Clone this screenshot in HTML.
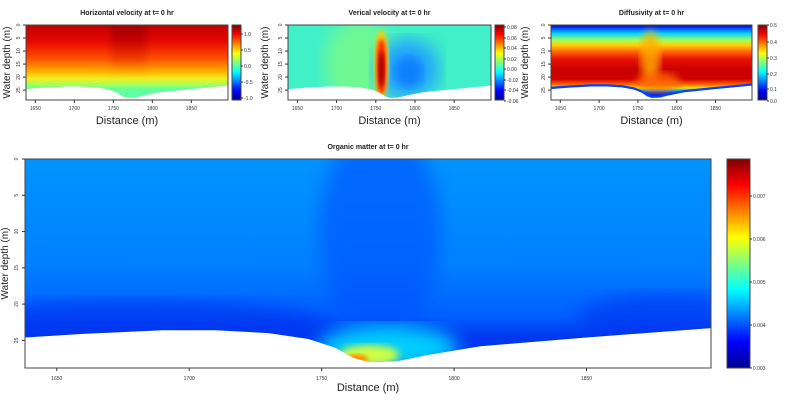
<!DOCTYPE html>
<html><head><meta charset="utf-8"><style>
html,body{margin:0;padding:0;background:#fff;width:800px;height:400px;overflow:hidden}
svg{display:block;font-family:"Liberation Sans",sans-serif}
</style></head><body>
<svg id="s" width="800" height="400" xmlns="http://www.w3.org/2000/svg">
<defs>
<linearGradient id="jet" x1="0" y1="1" x2="0" y2="0">
<stop offset="0" stop-color="#00008f"/><stop offset="0.125" stop-color="#0000ff"/>
<stop offset="0.375" stop-color="#00ffff"/><stop offset="0.625" stop-color="#ffff00"/>
<stop offset="0.875" stop-color="#ff0000"/><stop offset="1" stop-color="#800000"/>
</linearGradient>
<linearGradient id="hv" x1="0" y1="0" x2="0" y2="1">
<stop offset="0" stop-color="#c00000"/><stop offset="0.22" stop-color="#e80800"/>
<stop offset="0.45" stop-color="#ff5000"/><stop offset="0.62" stop-color="#ffb000"/>
<stop offset="0.72" stop-color="#f0f020"/><stop offset="0.8" stop-color="#a0ff60"/><stop offset="0.86" stop-color="#60ffa0"/><stop offset="1" stop-color="#60ffa0"/>
</linearGradient>
<linearGradient id="hvc" x1="0" y1="0" x2="0" y2="1">
<stop offset="0" stop-color="#900000" stop-opacity="0.8"/><stop offset="0.5" stop-color="#b00000" stop-opacity="0.3"/><stop offset="1" stop-color="#b00000" stop-opacity="0"/>
</linearGradient>
<linearGradient id="df" x1="0" y1="0" x2="0" y2="1">
<stop offset="0" stop-color="#0000a0"/><stop offset="0.04" stop-color="#0040ff"/>
<stop offset="0.11" stop-color="#00d0ff"/><stop offset="0.2" stop-color="#a0ff60"/>
<stop offset="0.27" stop-color="#ffd000"/><stop offset="0.36" stop-color="#ff6000"/>
<stop offset="0.46" stop-color="#e81000"/><stop offset="0.6" stop-color="#c80000"/><stop offset="0.72" stop-color="#d00000"/>
<stop offset="0.79" stop-color="#ff6000"/><stop offset="0.84" stop-color="#ffe000"/><stop offset="0.87" stop-color="#00c0ff"/><stop offset="0.9" stop-color="#0030ff"/><stop offset="1" stop-color="#0000c0"/>
</linearGradient>
<linearGradient id="om" x1="0" y1="0" x2="0" y2="1">
<stop offset="0" stop-color="#0094ff"/><stop offset="0.5" stop-color="#0080ff"/>
<stop offset="0.75" stop-color="#0060ff"/><stop offset="0.85" stop-color="#0038f0"/>
</linearGradient>
<filter id="b4"><feGaussianBlur stdDeviation="4"/></filter>
<filter id="b2"><feGaussianBlur stdDeviation="2"/></filter>
<filter id="b8"><feGaussianBlur stdDeviation="9"/></filter>
</defs>
</svg>
<script>
var s=document.getElementById('s');var h='';
var prof=[[1638,24.6],[1660,24.1],[1690,23.6],[1710,23.6],[1730,24.0],[1745,24.8],[1755,26],[1762,27.4],[1768,28],[1778,27.9],[1790,27],[1810,25.8],[1850,24.6],[1897,23.3]];
function seabed(X,Y,right,bottom){var p='M'+X(1638)+','+Y(prof[0][1]);prof.forEach(function(q){p+=' L'+X(q[0])+','+Y(q[1]);});p+=' L'+right+','+Y(23.3)+' L'+right+','+(bottom+3)+' L'+X(1638)+','+(bottom+3)+'Z';return '<path d="'+p+'" fill="#fff"/>';}
function panel(o){
 var L=o.L,R=o.R,T=o.T,B=o.B;
 var X=function(m){return L+(m-1638)*(R-L)/259;};var Y=function(d){return T+d*(B-T)/28.8;};
 var bg=function(g){return '<rect x="'+L+'" y="'+T+'" width="'+(R-L)+'" height="'+(B-T)+'" fill="'+g+'"/>';};
 h+='<svg x="'+L+'" y="'+T+'" width="'+(R-L)+'" height="'+(B-T)+'" viewBox="'+L+' '+T+' '+(R-L)+' '+(B-T)+'">'+o.fill(X,Y,bg)+seabed(X,Y,R,B)+'</svg>';
 h+='<rect x="'+L+'" y="'+T+'" width="'+(R-L)+'" height="'+(B-T)+'" fill="none" stroke="#444" stroke-width="1"/>';
 [1650,1700,1750,1800,1850].forEach(function(m){var x=X(m);h+='<line x1="'+x+'" y1="'+B+'" x2="'+x+'" y2="'+(B+3)+'" stroke="#333"/><text x="'+x+'" y="'+(B+o.tl)+'" font-size="'+o.fs+'" text-anchor="middle" fill="#333">'+m+'</text>';});
 [0,5,10,15,20,25].forEach(function(d){var y=Y(d);h+='<line x1="'+L+'" y1="'+y+'" x2="'+(L-3)+'" y2="'+y+'" stroke="#333"/><text transform="translate('+(L-o.yl)+','+y+') rotate(-90)" font-size="'+o.fs+'" text-anchor="middle" fill="#333">'+d+'</text>';});
 h+='<text x="'+(L+R)/2+'" y="'+o.titY+'" font-size="7" font-weight="bold" text-anchor="middle" fill="#222">'+o.title+'</text>';
 h+='<text x="'+(L+R)/2+'" y="'+o.xlY+'" font-size="11" text-anchor="middle" fill="#222">Distance (m)</text>';
 if(o.ylX) h+='<text transform="translate('+o.ylX+','+(T+B)/2+') rotate(-90)" font-size="10" text-anchor="middle" fill="#222">Water depth (m)</text>';
 var cb=o.cb;h+='<rect x="'+cb[0]+'" y="'+T+'" width="'+(cb[1]-cb[0])+'" height="'+(cb[2]-T)+'" fill="url(#jet)" stroke="#444"/>';
 o.ticks.forEach(function(t){h+='<line x1="'+cb[1]+'" y1="'+t[0]+'" x2="'+(cb[1]+2)+'" y2="'+t[0]+'" stroke="#333"/><text x="'+(cb[1]+3)+'" y="'+(t[0]+2)+'" font-size="5" fill="#333">'+t[1]+'</text>';});
 if(o.rl) h+='<text transform="translate('+o.rl+','+(T+B)/2+') rotate(-90)" font-size="10" text-anchor="middle" fill="#222">Water depth (m)</text>';
}
panel({L:26,R:228,T:25,B:100,tl:10,fs:5,yl:6,title:'Horizontal velocity at t= 0 hr',titY:15,xlY:124,ylX:10,cb:[232,241,100],rl:268,
 ticks:[[34,'1.0'],[50,'0.5'],[66,'0.0'],[82,'-0.5'],[98,'-1.0']],
 fill:function(X,Y,bg){return bg('url(#hv)')+'<rect x="'+(X(1770)-18)+'" y="25" width="36" height="50" fill="url(#hvc)" filter="url(#b4)"/>';}});
panel({L:288,R:491,T:25,B:100,tl:10,fs:5,yl:6,title:'Verical velocity at t= 0 hr',titY:15,xlY:124,ylX:0,cb:[495,504,100],rl:528,
 ticks:[[27,'0.08'],[38,'0.06'],[48,'0.04'],[59,'0.02'],[69,'0.00'],[80,'-0.02'],[90,'-0.04'],[101,'-0.06']],
 fill:function(X,Y,bg){var x=X(1761);return bg('#40f0c8')+
 '<ellipse cx="'+(x-25)+'" cy="'+Y(15)+'" rx="35" ry="45" fill="#90ff70" opacity="0.6" filter="url(#b8)"/>'+
 '<ellipse cx="'+(X(1790))+'" cy="'+Y(17)+'" rx="32" ry="30" fill="#20a0ff" filter="url(#b8)"/>'+
 '<ellipse cx="'+(X(1792))+'" cy="'+Y(18)+'" rx="14" ry="15" fill="#1080ff" filter="url(#b4)"/>'+
 '<ellipse cx="'+(x-3)+'" cy="'+Y(15)+'" rx="7" ry="34" fill="#ffd000" filter="url(#b2)"/>'+
 '<ellipse cx="'+(x-3)+'" cy="'+Y(16)+'" rx="5" ry="28" fill="#ff2000" filter="url(#b2)"/>'+
 '<ellipse cx="'+(x-3)+'" cy="'+Y(17)+'" rx="3" ry="18" fill="#a00000" filter="url(#b2)"/>';}});
panel({L:551,R:752,T:25,B:100,tl:10,fs:5,yl:6,title:'Diffusivity at t= 0 hr',titY:15,xlY:124,ylX:0,cb:[758,767,100],
 ticks:[[25,'0.5'],[42,'0.4'],[58,'0.3'],[74,'0.2'],[89,'0.1'],[101,'0.0']],
 fill:function(X,Y,bg){return bg('url(#df)')+
 '<ellipse cx="'+X(1766)+'" cy="'+Y(12)+'" rx="10" ry="26" fill="#ffb000" opacity="0.8" filter="url(#b4)"/>'+
 '<ellipse cx="'+X(1776)+'" cy="'+Y(22)+'" rx="22" ry="10" fill="#ff7000" opacity="0.8" filter="url(#b4)"/>'+
 '<path d="M'+X(1638)+','+Y(24.6)+prof.map(function(q){return ' L'+X(q[0])+','+Y(q[1]);}).join('')+'" fill="none" stroke="#0040ff" stroke-width="2.5" transform="translate(0,-1)"/>';}});
panel({L:25,R:711,T:159,B:368,tl:12,fs:5,yl:7,title:'Organic matter at t= 0 hr',titY:149,xlY:391,ylX:8,cb:[727,750,368],
 ticks:[[196,'0.007'],[239,'0.006'],[282,'0.005'],[325,'0.004'],[368,'0.003']],
 fill:function(X,Y,bg){return bg('url(#om)')+
 '<ellipse cx="'+X(1772)+'" cy="'+Y(10)+'" rx="60" ry="110" fill="#0050ff" opacity="0.6" filter="url(#b8)"/>'+
 '<ellipse cx="'+X(1680)+'" cy="'+Y(23)+'" rx="200" ry="25" fill="#0030f0" opacity="0.7" filter="url(#b8)"/>'+
 '<ellipse cx="'+X(1880)+'" cy="'+Y(22)+'" rx="90" ry="25" fill="#0030f0" opacity="0.6" filter="url(#b8)"/>'+
 '<ellipse cx="'+X(1775)+'" cy="'+Y(26)+'" rx="70" ry="22" fill="#00e0ff" opacity="0.9" filter="url(#b8)"/>'+
 '<ellipse cx="'+X(1768)+'" cy="'+Y(27)+'" rx="30" ry="10" fill="#d0ff40" filter="url(#b4)"/>'+
 '<ellipse cx="'+X(1763)+'" cy="'+Y(27.6)+'" rx="12" ry="5" fill="#ff9000" filter="url(#b2)"/>';}});
s.innerHTML+=h;
</script>
</body></html>
